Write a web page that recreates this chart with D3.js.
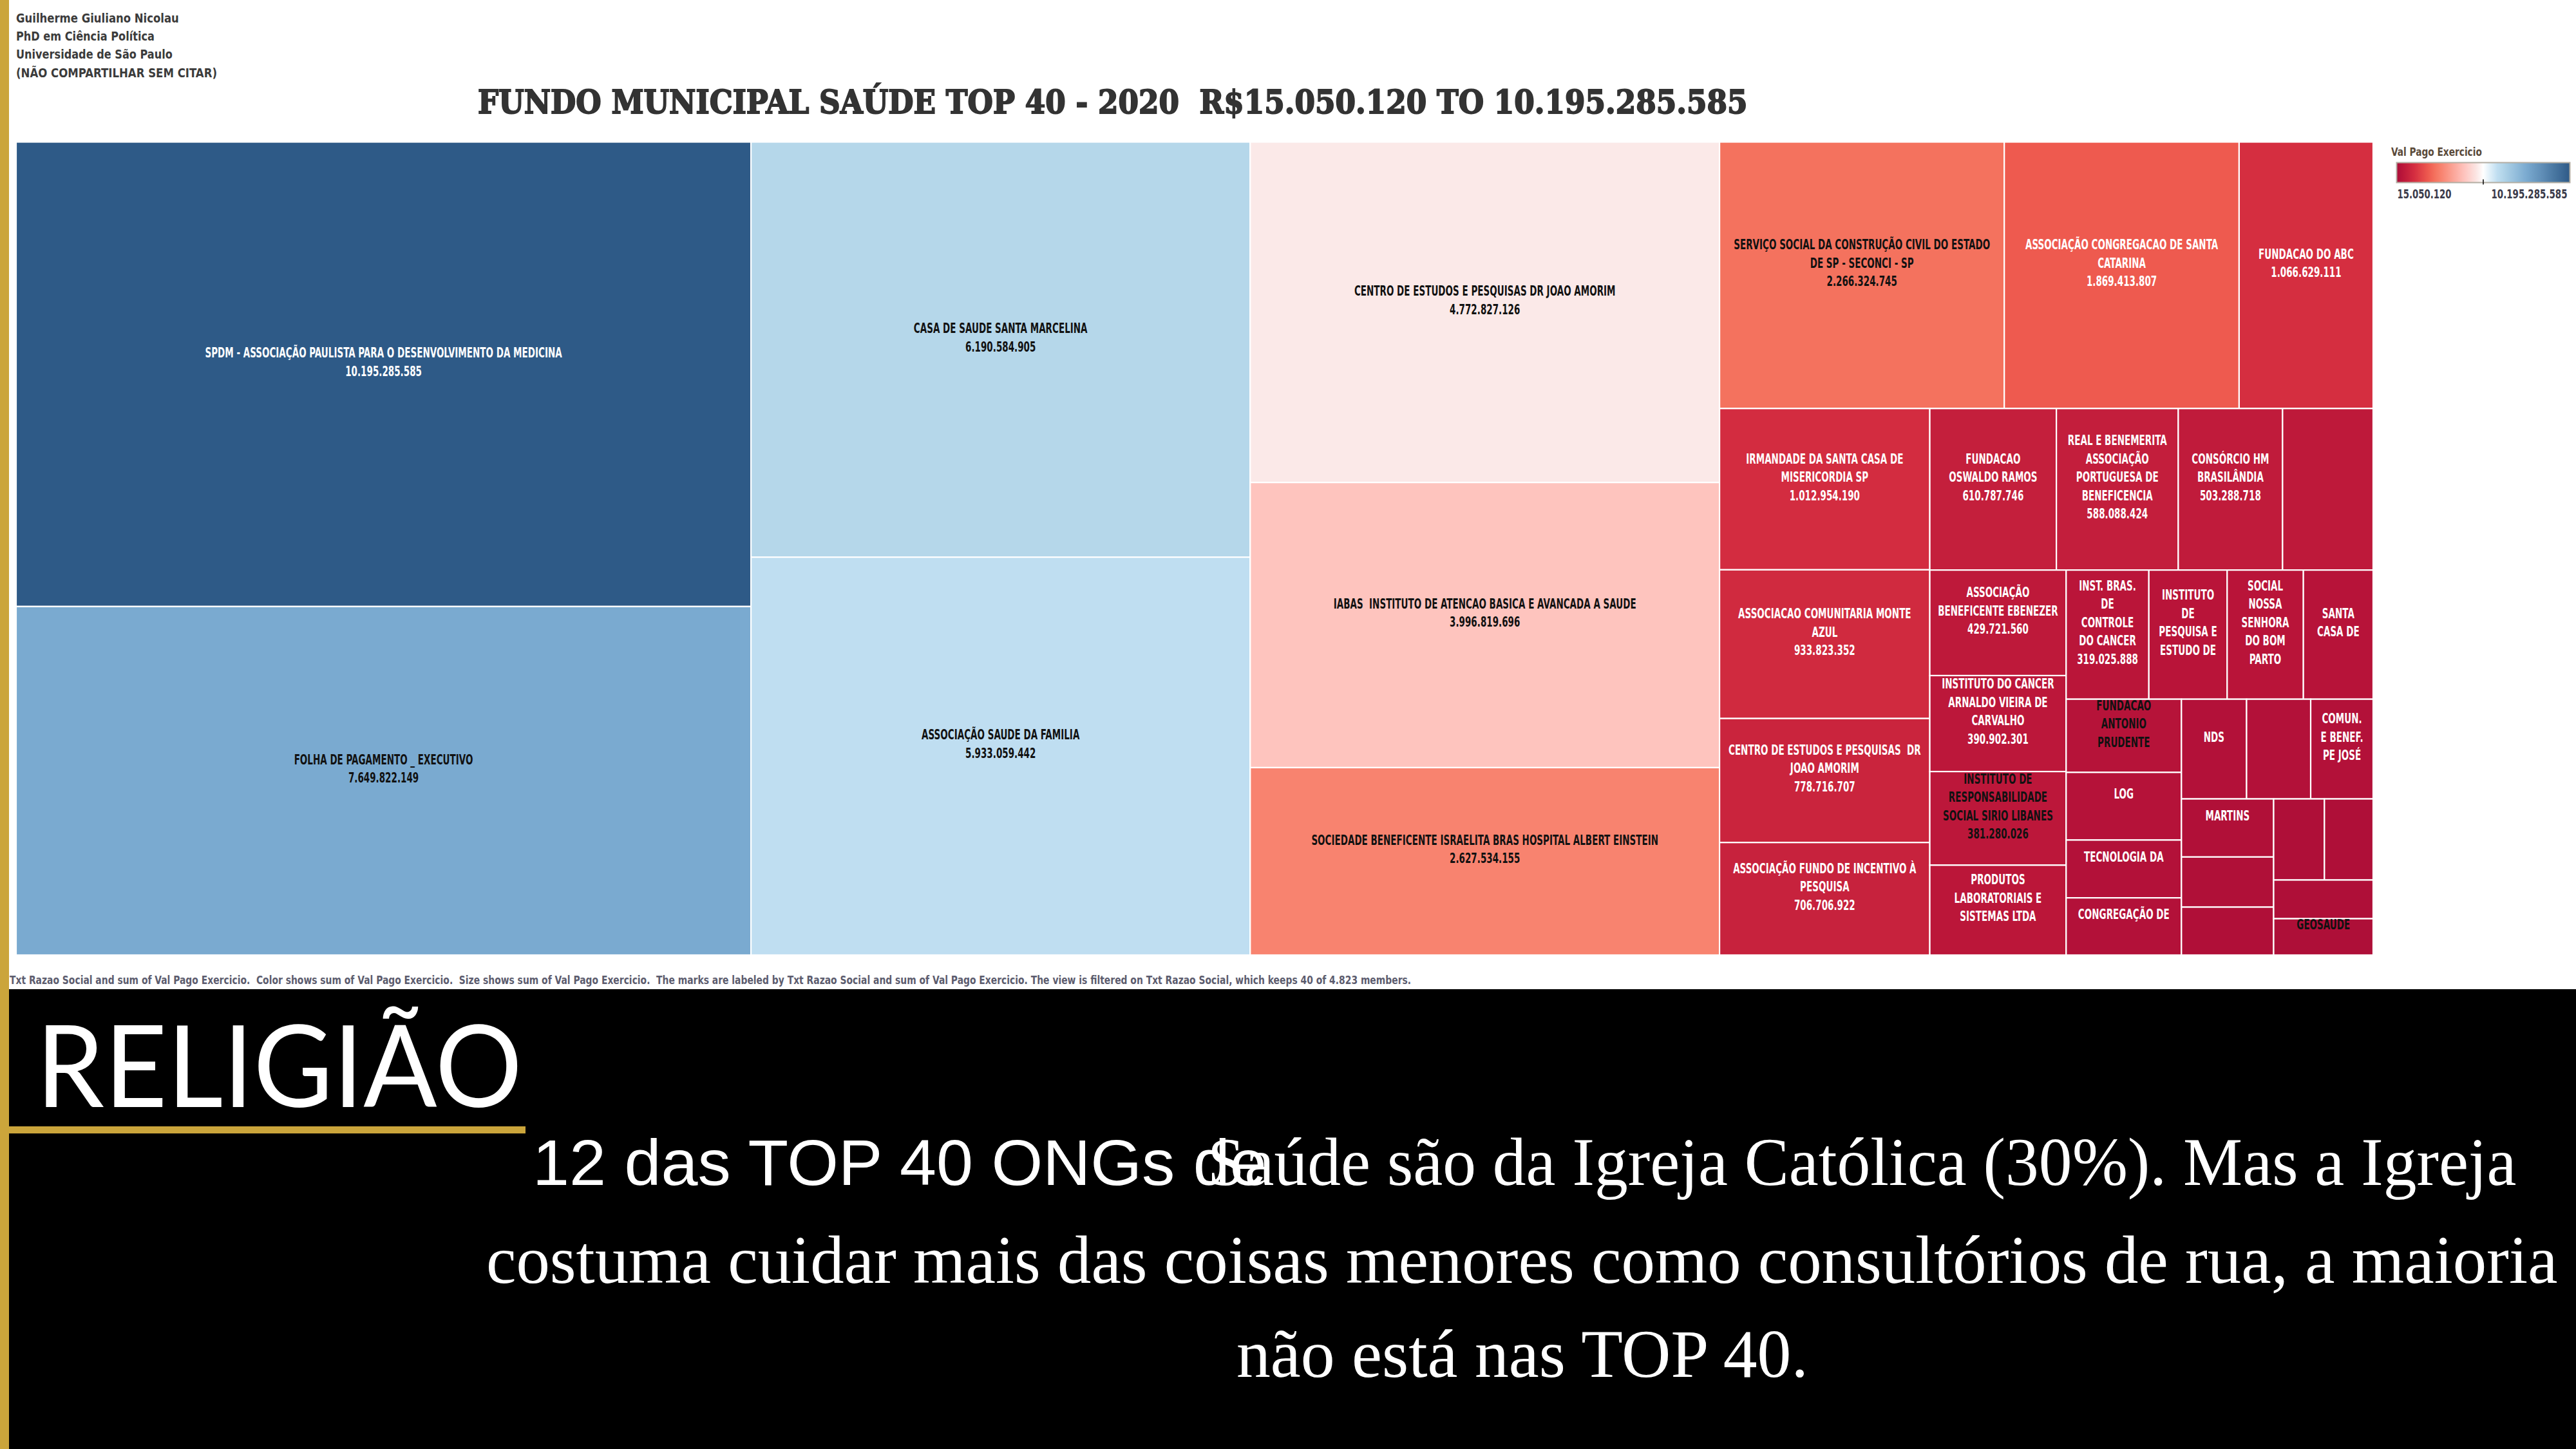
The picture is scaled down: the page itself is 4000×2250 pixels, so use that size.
<!DOCTYPE html>
<html><head><meta charset="utf-8">
<script src="https://cdn.jsdelivr.net/npm/d3@7"></script>
<style>html,body{margin:0;padding:0;background:#fff;}svg{display:block}</style>
</head><body>
<svg id="c" width="4000" height="2250"></svg>
<script>
// ---------------- DATA ----------------
const ongs = [
  "SPDM - ASSOCIAÇÃO PAULISTA PARA O DESENVOLVIMENTO DA MEDICINA",
  "FOLHA DE PAGAMENTO _ EXECUTIVO",
  "CASA DE SAUDE SANTA MARCELINA",
  "ASSOCIAÇÃO SAUDE DA FAMILIA",
  "CENTRO DE ESTUDOS E PESQUISAS DR JOAO AMORIM",
  "IABAS  INSTITUTO DE ATENCAO BASICA E AVANCADA A SAUDE",
  "SOCIEDADE BENEFICENTE ISRAELITA BRAS HOSPITAL ALBERT EINSTEIN",
  "SERVIÇO SOCIAL DA CONSTRUÇÃO CIVIL DO ESTADO\nDE SP - SECONCI - SP",
  "ASSOCIAÇÃO CONGREGACAO DE SANTA\nCATARINA",
  "FUNDACAO DO ABC",
  "IRMANDADE DA SANTA CASA DE\nMISERICORDIA SP",
  "ASSOCIACAO COMUNITARIA MONTE\nAZUL",
  "CENTRO DE ESTUDOS E PESQUISAS  DR\nJOAO AMORIM",
  "ASSOCIAÇÃO FUNDO DE INCENTIVO À\nPESQUISA",
  "FUNDACAO\nOSWALDO RAMOS",
  "REAL E BENEMERITA\nASSOCIAÇÃO\nPORTUGUESA DE\nBENEFICENCIA",
  "CONSÓRCIO HM\nBRASILÂNDIA",
  "",
  "ASSOCIAÇÃO\nBENEFICENTE EBENEZER",
  "INSTITUTO DO CANCER\nARNALDO VIEIRA DE\nCARVALHO",
  "INSTITUTO DE\nRESPONSABILIDADE\nSOCIAL SIRIO LIBANES",
  "PRODUTOS\nLABORATORIAIS E\nSISTEMAS LTDA",
  "INST. BRAS.\nDE\nCONTROLE\nDO CANCER",
  "INSTITUTO\nDE\nPESQUISA E\nESTUDO DE",
  "SOCIAL\nNOSSA\nSENHORA\nDO BOM\nPARTO",
  "SANTA\nCASA DE",
  "FUNDACAO\nANTONIO\nPRUDENTE",
  "LOG",
  "TECNOLOGIA DA",
  "CONGREGAÇÃO DE",
  "NDS",
  "",
  "COMUN.\nE BENEF.\nPE JOSÉ",
  "MARTINS",
  "", "", "", "", "",
  "GEOSAUDE"
];
const valPagoExercicio = [
  10195285585, 7649822149, 6190584905, 5933059442, 4772827126, 3996819696, 2627534155,
  2266324745, 1869413807, 1066629111, 1012954190, 933823352, 778716707, 706706922,
  610787746, 588088424, 503288718, 437000000, 429721560, 390902301, 381280026, 366000000,
  319025888, 302000000, 294000000, 269000000, 252000000, 233000000, 199000000, 197000000,
  194000000, 191000000, 186000000, 160000000, 138000000, 132000000, 123000000, 118000000,
  115000000, 108000000
];
const valueShown = [
  true,true,true,true,true,true,true,true,true,true,true,true,true,true,true,true,true,
  false,true,true,true,false,true,
  false,false,false,false,false,false,false,false,false,false,false,false,false,false,false,false,false
];
const darkLabelOngs = [
  "FOLHA DE PAGAMENTO _ EXECUTIVO","CASA DE SAUDE SANTA MARCELINA","ASSOCIAÇÃO SAUDE DA FAMILIA",
  "CENTRO DE ESTUDOS E PESQUISAS DR JOAO AMORIM","IABAS  INSTITUTO DE ATENCAO BASICA E AVANCADA A SAUDE",
  "SOCIEDADE BENEFICENTE ISRAELITA BRAS HOSPITAL ALBERT EINSTEIN",
  "SERVIÇO SOCIAL DA CONSTRUÇÃO CIVIL DO ESTADO\nDE SP - SECONCI - SP",
  "INSTITUTO DE\nRESPONSABILIDADE\nSOCIAL SIRIO LIBANES","FUNDACAO\nANTONIO\nPRUDENTE","GEOSAUDE"
];
const legendRange = [15050120, 10195285585];
const creditLines = ["Guilherme Giuliano Nicolau","PhD em Ciência Política","Universidade de São Paulo","(NÃO COMPARTILHAR SEM CITAR)"];
const titleText = "FUNDO MUNICIPAL SAÚDE TOP 40 - 2020  R$15.050.120 TO 10.195.285.585";
const legendTitle = "Val Pago Exercicio";
const captionText = "Txt Razao Social and sum of Val Pago Exercicio.  Color shows sum of Val Pago Exercicio.  Size shows sum of Val Pago Exercicio.  The marks are labeled by Txt Razao Social and sum of Val Pago Exercicio. The view is filtered on Txt Razao Social, which keeps 40 of 4.823 members.";
const slideTitle = "RELIGIÃO";
const bodySans = "12 das TOP 40 ONGs de";
const bodySerifLines = ["Saúde são da Igreja Católica (30%). Mas a Igreja",
  "costuma cuidar mais das coisas menores como consultórios de rua, a maioria",
  "não está nas TOP 40."];

// ---------------- DRAW ----------------
const svg = d3.select("#c");
const GOLD = "#CBA53B";
const ptBR = d3.formatLocale({decimal: ",", thousands: ".", grouping: [3], currency: ["R$", ""]});
const fmt = ptBR.format(",d");
const condFont = "'DejaVu Sans Condensed','DejaVu Sans',sans-serif";

// place a text so that it starts at x, baseline y and spans width w (horizontal scale)
function fitText(sel, x, y, w) {
  sel.style("white-space","pre");
  const L = sel.node().getComputedTextLength();
  sel.attr("x", 0).attr("y", 0).attr("transform", `translate(${x},${y}) scale(${w / L},1)`);
  return sel;
}

svg.append("rect").attr("x",0).attr("y",0).attr("width",4000).attr("height",2250).attr("fill","#fff");
svg.append("rect").attr("x",0).attr("y",1536).attr("width",4000).attr("height",714).attr("fill","#000");
svg.append("rect").attr("x",0).attr("y",0).attr("width",14).attr("height",2250).attr("fill",GOLD);

// credits
const credW = [253, 215, 243, 312];
creditLines.forEach((t,i) => {
  const s = svg.append("text").attr("font-family", condFont).attr("font-stretch","condensed")
    .attr("font-weight","bold").attr("font-size", 20).attr("fill", "#3b3b3b").text(t);
  fitText(s, 25, 35 + i*28.2, credW[i]);
});

// title
fitText(svg.append("text")
  .attr("font-family","'DejaVu Serif',serif").attr("font-weight","bold").attr("font-stretch","condensed")
  .attr("font-size", 50).attr("fill","#333").attr("stroke","#333").attr("stroke-width",1.8)
  .text(titleText), 742, 176, 1972);

// color scale (diverging red-blue)
const cT = [0, 0.03, 0.06, 0.103, 0.182, 0.221, 0.257, 0.391, 0.467, 0.5, 0.581, 0.607, 0.75, 1];
const cC = ["#A90C38","#BA1539","#C41F3C","#D52E40","#EE5A4F","#F4725E","#F8836F","#FEC4BE","#FBE9E8","#FFFFFF","#BFDEF1","#B5D7EA","#7AAAD0","#2E5A87"];
const [lo, hi] = legendRange;
const color = d3.scaleLinear().domain(cT.map(t => lo + t*(hi-lo))).range(cC).interpolate(d3.interpolateRgb).clamp(true);

// treemap
const TM = {x: 25, y: 220.5, w: 3660, h: 1262.5};
const root = d3.hierarchy({children: ongs.map((n,i) => ({name: n, v: valPagoExercicio[i], showV: valueShown[i], idx: i}))})
  .sum(d => d.v || 0)
  .sort((a,b) => b.value - a.value);
d3.treemap().size([TM.w, TM.h]).tile(d3.treemapSquarify)(root);

const gT = svg.append("g").attr("transform", `translate(${TM.x},${TM.y})`);
const defs = svg.append("defs");
const leaves = root.leaves();
leaves.forEach((d,i) => {
  defs.append("clipPath").attr("id","cp"+i).append("rect")
    .attr("x", d.x0).attr("y", d.y0).attr("width", d.x1-d.x0).attr("height", d.y1-d.y0);
});
gT.selectAll("rect.cell").data(leaves).join("rect").attr("class","cell")
  .attr("x", d => d.x0).attr("y", d => d.y0)
  .attr("width", d => d.x1 - d.x0).attr("height", d => d.y1 - d.y0)
  .attr("fill", d => color(d.value))
  .attr("stroke", "#fff").attr("stroke-width", 2.2);

// measure condensed scale
const probe = svg.append("text").attr("font-family", condFont).attr("font-stretch","condensed")
  .attr("font-weight","bold").attr("font-size", 22).text("SERVIÇO SOCIAL DA CONSTRUÇÃO CIVIL DO ESTADO");
const sx = 398 / probe.node().getComputedTextLength();
probe.remove();

const darkSet = new Set(darkLabelOngs);
const LH = 28.5;
leaves.forEach((d,i) => {
  const lines = d.data.name ? d.data.name.split("\n") : [];
  if (d.data.showV) lines.push(fmt(d.value));
  if (!lines.length) return;
  const cx = (d.x0 + d.x1)/2, cy = (d.y0 + d.y1)/2 - 19.5;
  const n = lines.length;
  const g = gT.append("g").attr("clip-path", `url(#cp${i})`);
  lines.forEach((ln, k) => {
    const y = cy + (k - (n-1)/2) * LH + 8;
    g.append("text").attr("transform", `translate(${cx},${y}) scale(${sx},1)`)
      .attr("text-anchor","middle")
      .attr("font-family", condFont).attr("font-stretch","condensed").attr("font-weight","bold")
      .attr("font-size", 22)
      .attr("fill", darkSet.has(d.data.name) ? "#111" : "#fff")
      .style("white-space","pre")
      .text(ln);
  });
});

// legend
const L = {x: 3721.5, y: 252.5, w: 269, h: 31};
fitText(svg.append("text")
  .attr("font-family", condFont).attr("font-stretch","condensed").attr("font-weight","bold")
  .attr("font-size", 17).attr("fill","#5a4a3a").text(legendTitle), 3713, 242, 141);
const grad = defs.append("linearGradient").attr("id","lg").attr("x1","0%").attr("x2","100%");
d3.range(0, 1.0001, 0.02).forEach(t => {
  grad.append("stop").attr("offset", (t*100)+"%").attr("stop-color", color(lo + t*(hi-lo)));
});
svg.append("rect").attr("x", L.x).attr("y", L.y).attr("width", L.w).attr("height", L.h)
  .attr("fill","url(#lg)").attr("stroke","#B3AEA3").attr("stroke-width",2);
const lx = d3.scaleLinear().domain(legendRange).range([L.x, L.x + L.w]);
svg.append("line").attr("x1", lx((lo+hi)/2)).attr("x2", lx((lo+hi)/2))
  .attr("y1", L.y + L.h - 5).attr("y2", L.y + L.h + 3).attr("stroke","#111").attr("stroke-width",1.6);
fitText(svg.append("text")
  .attr("font-family", condFont).attr("font-stretch","condensed").attr("font-weight","bold")
  .attr("font-size", 19).attr("fill","#3a3a4a").text(fmt(lo)), lx(lo) + 1, 308, 84);
fitText(svg.append("text")
  .attr("font-family", condFont).attr("font-stretch","condensed").attr("font-weight","bold")
  .attr("font-size", 19).attr("fill","#3a3a4a").text(fmt(hi)), lx(hi) - 122, 308, 118);

// caption
fitText(svg.append("text")
  .attr("font-family", condFont).attr("font-stretch","condensed").attr("font-weight","bold")
  .attr("font-size", 17).attr("fill","#5c5c6e").text(captionText), 15, 1528, 2178);

// bottom slide text
fitText(svg.append("text")
  .attr("font-family","Lato, 'Open Sans', sans-serif").attr("font-size", 176).attr("fill","#fff")
  .text(slideTitle), 56, 1719, 755);
svg.append("rect").attr("x", 0).attr("y", 1749).attr("width", 816).attr("height", 11).attr("fill", GOLD);

fitText(svg.append("text")
  .attr("font-family","'Liberation Sans', Arial, sans-serif").attr("font-size", 100).attr("fill","#fff")
  .text(bodySans), 827, 1840, 1140);
const serifPos = [{x:1875, y:1840, w:2033}, {x:755, y:1992, w:3217}, {x:1920, y:2138, w:888}];
bodySerifLines.forEach((t,i) => {
  fitText(svg.append("text")
    .attr("font-family","'Liberation Serif','Times New Roman',serif").attr("font-size", 106).attr("fill","#fff")
    .text(t), serifPos[i].x, serifPos[i].y, serifPos[i].w);
});
</script>
</body></html>
